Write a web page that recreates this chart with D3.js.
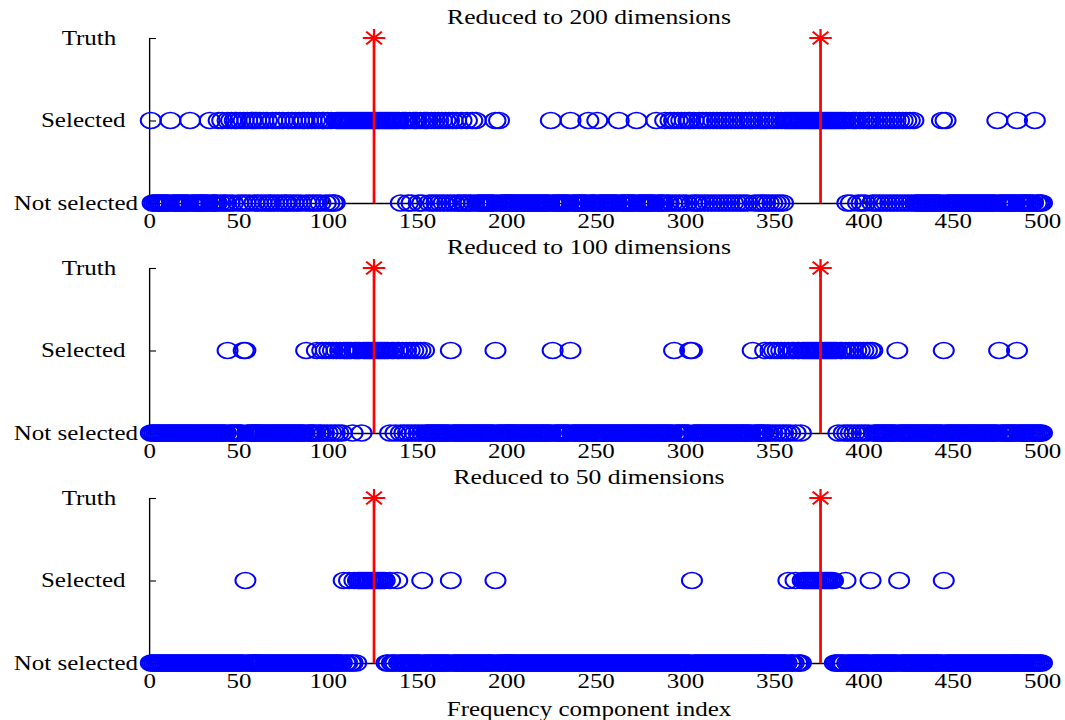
<!DOCTYPE html>
<html>
<head>
<meta charset="utf-8">
<script src="https://cdn.jsdelivr.net/npm/d3@7"></script>
<style>
  body { margin: 0; background: #fff; }
  svg { display: block; }
</style>
</head>
<body>
<div id="chart"></div>
<script>
// Data
const N_COMPONENTS = 500;
const TRUTH = [126, 376];
const Y_LABELS = ['Not selected', 'Selected', 'Truth'];
const X_TICKS = [0, 50, 100, 150, 200, 250, 300, 350, 400, 450, 500];
const TITLES = ['Reduced to 200 dimensions', 'Reduced to 100 dimensions', 'Reduced to 50 dimensions'];
const X_LABEL = 'Frequency component index';

const SELECTED_200 = [
  1, 12, 23, 34,
  39, 41, 44, 46, 48, 49, 51, 53, 55, 57, 58, 60, 62, 64, 66, 69, 71, 73, 75, 78, 80,
  82, 84, 86, 87, 89, 91, 93, 95, 97, 98, 100, 102,
  105, 106, 107, 108, 109, 110, 111, 112, 113, 114, 115, 116, 117, 118, 119, 120, 121, 122,
  123, 124, 125, 126, 127, 128, 129, 130, 131, 132, 133, 134, 135, 136, 137, 138, 139, 140,
  142, 143, 144, 146, 148, 149, 150, 152, 154, 155, 156, 158, 160, 162, 164, 166, 168, 170,
  172, 175, 178, 181, 183,
  194, 196,
  225, 236, 246, 251, 263, 273, 284,
  289, 292, 294, 296, 298, 300, 302, 303, 305,
  308, 310, 312, 314, 316, 318, 320, 322, 324, 326, 328, 330, 332, 334, 336, 337, 338, 340,
  342, 344, 346, 348, 350, 352, 354,
  356, 357, 358, 359, 360, 361, 362, 363, 364, 365, 366, 367, 368, 369, 370, 371, 372, 373,
  374, 375, 376, 377, 378, 379, 380, 381, 382, 383, 384, 385, 386, 387, 388, 389, 390,
  392, 394, 395, 396, 398, 400, 402, 403, 404, 406, 408, 410, 412, 414, 416, 418, 420, 422,
  424, 426,
  428, 444, 446, 475, 486, 496
];

const SELECTED_100 = [
  44, 53, 54, 88,
  94, 97, 99, 101, 103, 105, 107, 109, 110, 111, 112, 113, 115, 116,
  117, 118, 120, 121, 122, 123, 124, 125, 126, 127, 128, 129, 130, 131, 132, 133, 134,
  136, 137, 139, 140, 142, 144, 146, 148, 150, 152, 154,
  169, 194, 226, 236, 294, 303, 304, 338,
  345, 348, 350, 352, 354, 356, 358, 360, 361, 363, 364, 366, 367,
  368, 369, 370, 371, 372, 373, 374, 375, 376, 377, 378, 379, 380, 381, 382, 383, 384, 385,
  387, 388, 390, 392, 394, 396, 398, 400, 402, 404, 405,
  419, 445, 476, 486
];

const SELECTED_50 = [
  54,
  109, 112, 115, 117, 118, 119, 120, 121, 122, 123, 124, 125, 126, 127, 128, 129, 130, 131,
  132, 135, 139,
  153, 169, 194, 304,
  358, 362, 366, 367, 368, 369, 370, 371, 372, 373, 374, 375, 376, 377, 378, 379, 380, 381,
  382, 383, 390,
  404, 420, 445
];

// Layout constants
const WIDTH = 1065;
const HEIGHT = 720;
const SX = 1.25;              // the picture is stretched horizontally
const X_LEFT = 149, X_RIGHT = 1042;
const PANEL_TOP = [38, 268, 498];
const PANEL_SPAN = 165;
const FONT = '"Liberation Serif", "Times New Roman", serif';
const BLUE = '#0000ff';
const RED = '#ff0000';

const svg = d3.select('#chart')
  .append('svg')
  .attr('width', WIDTH)
  .attr('height', HEIGHT);

svg.append('rect')
  .attr('width', WIDTH)
  .attr('height', HEIGHT)
  .attr('fill', '#fff');

const root = svg.append('g')
  .attr('transform', `scale(${SX}, 1)`);

const xScale = d3.scaleLinear()
  .domain([0, N_COMPONENTS])
  .range([X_LEFT / SX, X_RIGHT / SX]);

const panels = [SELECTED_200, SELECTED_100, SELECTED_50];
panels.forEach((sel, i) => drawPanel(sel, i));

root.append('text')
  .attr('x', 589 / SX)
  .attr('y', 716)
  .attr('text-anchor', 'middle')
  .attr('font-family', FONT)
  .attr('font-size', 20)
  .text(X_LABEL);

function drawPanel (selected, i) {
  const top = PANEL_TOP[i];
  const bottom = top + PANEL_SPAN;
  const g = root.append('g');

  const yScale = d3.scalePoint()
    .domain(Y_LABELS)
    .range([bottom, top]);

  const selSet = new Set(selected);
  const notSelected = d3.range(1, N_COMPONENTS + 1).filter(k => !selSet.has(k));

  // y axis, labels padded like a char matrix
  const maxLen = d3.max(Y_LABELS, d => d.length);
  const yAxis = d3.axisLeft(yScale)
    .tickSize(-7 / SX)
    .tickSizeOuter(0)
    .tickPadding(11 / SX);

  g.append('g')
    .attr('class', 'yAxis')
    .attr('transform', `translate(${xScale(0)}, 0)`)
    .call(yAxis)
    .call(a => a.selectAll('text')
      .attr('font-family', FONT)
      .attr('font-size', 20)
      .attr('fill', '#000')
      .attr('dx', d => -(maxLen - d.length) * 3.1 / SX))
    .call(a => a.selectAll('path, line').attr('stroke', '#000').attr('stroke-width', 1.1));

  // x axis on the "Not selected" row
  const xAxis = d3.axisBottom(xScale)
    .tickValues(X_TICKS)
    .tickSize(-7)
    .tickSizeOuter(0)
    .tickPadding(11);

  g.append('g')
    .attr('class', 'xAxis')
    .attr('transform', `translate(0, ${bottom})`)
    .call(xAxis)
    .call(a => a.selectAll('text')
      .attr('font-family', FONT)
      .attr('font-size', 20)
      .attr('fill', '#000'))
    .call(a => a.selectAll('path, line').attr('stroke', '#000').attr('stroke-width', 1.3));

  // title
  g.append('text')
    .attr('x', 589 / SX)
    .attr('y', top - 14)
    .attr('text-anchor', 'middle')
    .attr('font-family', FONT)
    .attr('font-size', 20.5)
    .text(TITLES[i]);

  // circles
  g.selectAll('circle.sel')
    .data(selected)
    .join('circle')
    .attr('class', 'sel')
    .attr('cx', d => xScale(d))
    .attr('cy', yScale('Selected'))
    .attr('r', 8)
    .attr('fill', 'none')
    .attr('stroke', BLUE)
    .attr('stroke-width', 1.6);

  g.selectAll('circle.not')
    .data(notSelected)
    .join('circle')
    .attr('class', 'not')
    .attr('cx', d => xScale(d))
    .attr('cy', yScale('Not selected'))
    .attr('r', 8)
    .attr('fill', 'none')
    .attr('stroke', BLUE)
    .attr('stroke-width', 1.6);

  // truth stems
  g.selectAll('line.stem')
    .data(TRUTH)
    .join('line')
    .attr('class', 'stem')
    .attr('x1', d => xScale(d))
    .attr('x2', d => xScale(d))
    .attr('y1', yScale('Not selected'))
    .attr('y2', yScale('Truth'))
    .attr('stroke', RED)
    .attr('stroke-width', 2.2);

  const s = 9;
  const star = `M${-s},0L${s},0M0,${-s}L0,${s}` +
    `M${-s * 0.7},${-s * 0.7}L${s * 0.7},${s * 0.7}M${-s * 0.7},${s * 0.7}L${s * 0.7},${-s * 0.7}`;

  g.selectAll('path.star')
    .data(TRUTH)
    .join('path')
    .attr('class', 'star')
    .attr('transform', d => `translate(${xScale(d)}, ${yScale('Truth')})`)
    .attr('d', star)
    .attr('fill', 'none')
    .attr('stroke', RED)
    .attr('stroke-width', 1.8);
}
</script>
</body>
</html>
